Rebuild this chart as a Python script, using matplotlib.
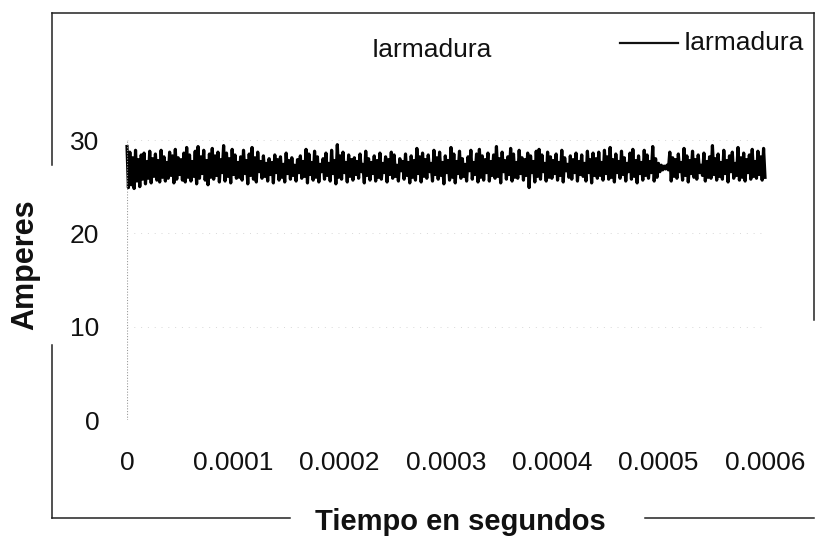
import matplotlib
matplotlib.use("Agg")
import matplotlib.pyplot as plt
from matplotlib.lines import Line2D

plt.rcParams['font.family'] = ['Liberation Sans', 'DejaVu Sans']

# Armature current samples (A), evenly spaced over 0 .. 0.6 ms
corriente = [
    29.3, 24.9, 28.7, 25.2, 28.1, 24.8, 28.9, 25.6, 27.9, 25.0, 28.4, 25.8, 28.6, 25.3, 27.7, 25.9, 28.8, 25.4, 28.0, 26.1,
    28.5, 25.7, 27.8, 25.5, 28.9, 26.0, 28.2, 25.6, 27.6, 25.9, 28.7, 26.2, 28.3, 25.4, 29.0, 25.8, 28.1, 26.3, 27.9, 25.7,
    28.6, 25.5, 29.2, 26.0, 28.4, 25.6, 27.7, 26.1, 28.8, 25.3, 29.3, 25.9, 28.2, 26.4, 28.9, 25.7, 27.8, 25.2, 28.5, 26.0,
    29.1, 25.8, 28.3, 26.2, 28.7, 25.5, 27.9, 26.5, 29.4, 25.6, 28.6, 26.1, 28.0, 25.4, 29.0, 26.3, 28.4, 25.9, 27.6, 26.0,
    28.2, 25.7, 28.9, 26.4, 27.8, 25.3, 28.5, 26.2, 29.2, 25.8, 28.1, 25.5, 28.7, 26.6, 27.7, 25.9, 28.3, 26.1, 27.5, 25.6,
    28.0, 26.3, 27.6, 25.4, 28.4, 26.5, 27.9, 25.7, 28.2, 26.0, 27.4, 25.5, 28.6, 26.4, 27.8, 25.8, 28.1, 26.2, 27.3, 25.6,
    27.9, 26.5, 28.3, 25.9, 27.7, 26.1, 29.0, 25.4, 28.5, 26.3, 27.6, 25.7, 28.8, 26.0, 28.2, 25.5, 27.4, 26.6, 28.0, 25.8,
    28.6, 26.2, 27.5, 25.6, 28.9, 26.4, 27.8, 25.3, 29.5, 26.0, 28.3, 25.8, 28.7, 26.5, 27.6, 25.5, 28.4, 26.1, 27.9, 25.7,
    28.1, 26.3, 27.7, 25.9, 28.5, 26.6, 27.4, 25.4, 28.8, 26.2, 28.0, 25.7, 27.6, 26.4, 28.3, 25.6, 27.8, 26.0, 28.6, 25.8,
    27.5, 26.5, 28.2, 25.5, 27.9, 26.3, 28.7, 25.9, 28.4, 26.1, 27.3, 25.6, 28.0, 26.7, 27.7, 25.8, 28.5, 26.2, 27.6, 25.4,
    28.3, 26.0, 27.8, 25.7, 29.1, 26.4, 28.2, 25.5, 28.6, 26.1, 27.9, 25.9, 28.4, 26.6, 27.5, 25.6, 28.9, 26.3, 28.1, 25.8,
    28.7, 26.2, 27.6, 25.3, 28.3, 26.5, 27.8, 25.7, 29.2, 26.0, 28.5, 25.4, 27.7, 26.4, 28.8, 25.9, 28.0, 26.1, 27.4, 25.6,
    28.2, 26.7, 28.9, 25.8, 27.6, 26.3, 28.5, 25.5, 29.0, 26.0, 28.3, 25.7, 27.9, 26.5, 28.6, 25.6, 27.7, 26.2, 28.4, 25.9,
    29.3, 26.1, 28.0, 25.4, 28.7, 26.6, 27.8, 25.8, 28.2, 26.3, 29.1, 25.6, 28.5, 26.0, 27.6, 25.9, 28.9, 26.4, 28.1, 25.7,
    27.9, 26.2, 28.6, 24.9, 28.3, 26.5, 27.7, 25.5, 28.8, 26.1, 29.0, 25.8, 28.4, 26.6, 27.5, 25.6, 28.7, 26.0, 28.2, 25.9,
    27.8, 26.4, 28.5, 25.7, 27.6, 26.2, 28.9, 25.5, 28.1, 26.7, 27.4, 26.0, 28.3, 25.8, 27.9, 26.5, 28.6, 25.6, 27.7, 26.3,
    28.4, 26.1, 27.5, 25.6, 28.8, 26.5, 27.9, 25.4, 28.6, 26.2, 28.0, 25.9, 28.7, 26.2, 27.6, 25.7, 28.9, 26.4, 28.2, 25.8,
    29.2, 26.0, 27.9, 25.5, 28.5, 26.5, 27.7, 25.9, 28.8, 26.3, 28.1, 25.6, 27.5, 26.6, 28.6, 25.8, 29.0, 26.1, 27.8, 25.4,
    28.3, 26.4, 27.6, 25.7, 28.9, 26.2, 28.4, 25.9, 27.7, 26.5, 29.3, 25.6, 28.0, 26.0, 27.5, 26.6, 27.3, 26.8, 27.2, 26.9,
    27.3, 26.8, 28.7, 25.6, 28.1, 26.1, 27.9, 25.9, 28.5, 26.6, 27.6, 25.7, 29.1, 26.2, 28.3, 25.5, 27.8, 26.4, 28.8, 26.0,
    27.9, 25.8, 28.4, 26.5, 27.3, 26.2, 28.6, 25.6, 27.7, 26.0, 28.2, 25.9, 29.4, 26.3, 28.0, 25.7, 28.5, 26.1, 27.6, 25.8,
    28.9, 26.4, 27.8, 25.5, 28.3, 26.6, 28.7, 25.9, 27.5, 26.2, 29.2, 25.7, 28.1, 26.0, 28.6, 25.6, 27.9, 26.5, 28.4, 25.8,
    29.0, 26.1, 27.7, 25.9, 28.8, 26.3, 28.2, 25.7, 29.1, 26.0,
]
t_fin = 0.0006
tiempo = [t_fin * i / (len(corriente) - 1) for i in range(len(corriente))]

x_ticks = [0, 0.0001, 0.0002, 0.0003, 0.0004, 0.0005, 0.0006]
x_labels = ['0', '0.0001', '0.0002', '0.0003', '0.0004', '0.0005', '0.0006']
y_ticks = [0, 10, 20, 30]
y_labels = ['0', '10', '20', '30']

W, H = 815, 542
fig = plt.figure(figsize=(W / 100, H / 100), dpi=100)
fig.patch.set_facecolor('white')

ax = fig.add_axes([127 / W, (H - 420) / H, 638 / W, 280 / H])
ax.plot(tiempo, corriente, color='black', lw=2.3, clip_on=False, label='Iarmadura')
ax.set_xlim(0, t_fin)
ax.set_ylim(0, 30)
for s in ax.spines.values():
    s.set_visible(False)
ax.axvline(0, color='#9a9a9a', lw=0.8, ls=(0, (1, 1.5)))
for yv in y_ticks:
    ax.axhline(yv, color='#d8d8d8', lw=0.7, ls=(0, (1, 6)))
ax.set_xticks(x_ticks)
ax.set_xticklabels(x_labels)
ax.set_yticks(y_ticks)
ax.set_yticklabels(y_labels)
ax.tick_params(axis='both', length=0, labelsize=19, colors='#111111')
ax.tick_params(axis='x', pad=22)
ax.tick_params(axis='y', pad=20)

fig.text(25 / W, 1 - 265 / H, 'Amperes', rotation=90, fontsize=22,
         fontweight='bold', ha='center', va='center', color='#111111')
fig.text(460 / W, 1 - 522 / H, 'Tiempo en segundos', fontsize=21,
         fontweight='bold', ha='center', va='center', color='#111111')
fig.text(432 / W, 1 - 50 / H, 'Iarmadura', fontsize=19,
         ha='center', va='center', color='#111111')

# legend entry
fig.add_artist(Line2D([620 / W, 678 / W], [1 - 43 / H, 1 - 43 / H],
                      color='#111111', lw=1.6))
fig.text(684 / W, 1 - 43 / H, 'Iarmadura', fontsize=19,
         ha='left', va='center', color='#111111')

# outer frame, interrupted around the axis titles
def fx(px):
    return px / W

def fy(py):
    return 1 - py / H

frame = dict(color='#222222', lw=1.1)
segs = [
    ([52, 814], [13, 13]),
    ([52, 52], [13, 165]),
    ([52, 52], [345, 518]),
    ([814, 814], [13, 320]),
    ([52, 290], [518, 518]),
    ([645, 814], [518, 518]),
]
for xs, ys in segs:
    fig.add_artist(Line2D([fx(v) for v in xs], [fy(v) for v in ys], **frame))

fig.savefig('out.png', dpi=100, facecolor='white')
